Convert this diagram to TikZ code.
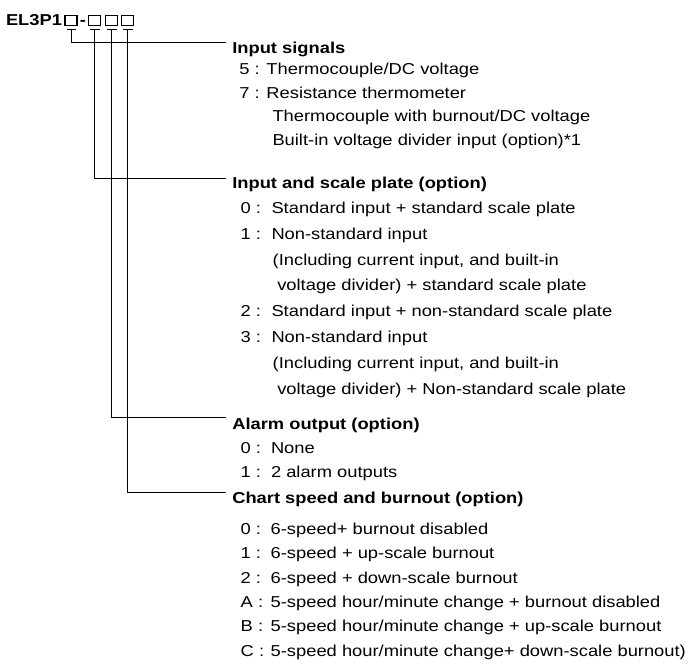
\documentclass[tikz,border=0pt]{standalone}
\usepackage{fontspec}
\setmainfont{Liberation Sans}
\usepackage{graphicx}
\usetikzlibrary{calc}
\newcommand{\sx}[1]{\scalebox{1.16}[1]{#1}}
\tikzset{
  txt/.style={anchor=base west, inner sep=0pt, outer sep=0pt, font=\fontsize{15.8}{19}\selectfont},
  hd/.style={txt, font=\fontsize{15.8}{19}\selectfont\bfseries},
  digitbox/.style={draw, line width=1.3pt, minimum width=11.8pt, minimum height=10.6pt, inner sep=0pt},
  conn/.style={line width=1pt},
}
\begin{document}
\begin{tikzpicture}[x=1pt,y=-1pt]
\useasboundingbox (0,0) rectangle (692,671);
% code
\node[hd] (code) at (6,26) {\sx{EL3P1}};
\node[digitbox] (b1) at (71,20.5) {};
\node[hd] (dash) at (79.8,26) {\sx{-}};
\node[digitbox] (b2) at (94.5,20.5) {};
\node[digitbox] (b3) at (111.5,20.5) {};
\node[digitbox] (b4) at (127.5,20.5) {};
% connector end points
\coordinate (e1) at (225.5,42.3);
\coordinate (e2) at (225.5,178.3);
\coordinate (e3) at (225.5,417.7);
\coordinate (e4) at (225.5,492.3);
\foreach \b/\e in {b1/e1,b2/e2,b3/e3,b4/e4}{
  \draw[conn] ($(\b.south)+(-4.5,2.6)$) -- ++(9.5,0);
  \draw[conn] ($(\b.south)+(0,2.6)$) |- (\e);
}
% section 1
\node[hd] (h1) at (232.3,54) {\sx{Input signals}};
\node[txt] (s1a) at (239.3,74.5) {\sx{5 : Thermocouple/DC voltage}};
\node[txt] (s1b) at (239.3,98.2) {\sx{7 : Resistance thermometer}};
\node[txt] (s1c) at (272.5,121.8) {\sx{Thermocouple with burnout/DC voltage}};
\node[txt] (s1d) at (272.5,145.4) {\sx{Built-in voltage divider input (option)*1}};
% section 2
\node[hd] (h2) at (232.3,188.3) {\sx{Input and scale plate (option)}};
\node[txt] (s2a) at (240.7,213.5) {\sx{0 :}};
\node[txt] (s2at) at (271.5,213.5) {\sx{Standard input + standard scale plate}};
\node[txt] (s2b) at (240.7,239.3) {\sx{1 :}};
\node[txt] (s2bt) at (271.5,239.3) {\sx{Non-standard input}};
\node[txt] (s2c) at (272.7,265.1) {\sx{(Including current input, and built-in}};
\node[txt] (s2d) at (277.3,290.9) {\sx{voltage divider) + standard scale plate}};
\node[txt] (s2e) at (240.7,316.7) {\sx{2 :}};
\node[txt] (s2et) at (271.5,316.7) {\sx{Standard input + non-standard scale plate}};
\node[txt] (s2f) at (240.7,342.5) {\sx{3 :}};
\node[txt] (s2ft) at (271.5,342.5) {\sx{Non-standard input}};
\node[txt] (s2g) at (272.7,368.3) {\sx{(Including current input, and built-in}};
\node[txt] (s2h) at (277.3,394.1) {\sx{voltage divider) + Non-standard scale plate}};
% section 3
\node[hd] (h3) at (232.3,429) {\sx{Alarm output (option)}};
\node[txt] (s3a) at (240.7,453.3) {\sx{0 :}};
\node[txt] (s3at) at (271,453.3) {\sx{None}};
\node[txt] (s3b) at (240.7,477.7) {\sx{1 :}};
\node[txt] (s3bt) at (271,477.7) {\sx{2 alarm outputs}};
% section 4
\node[hd] (h4) at (232.3,503.8) {\sx{Chart speed and burnout (option)}};
\node[txt] (s4a) at (240.7,534) {\sx{0 :}};
\node[txt] (s4at) at (270.7,534) {\sx{6-speed+ burnout disabled}};
\node[txt] (s4b) at (240.7,558.5) {\sx{1 :}};
\node[txt] (s4bt) at (270.7,558.5) {\sx{6-speed + up-scale burnout}};
\node[txt] (s4c) at (240.7,583) {\sx{2 :}};
\node[txt] (s4ct) at (270.7,583) {\sx{6-speed + down-scale burnout}};
\node[txt] (s4d) at (240.7,607.4) {\sx{A :}};
\node[txt] (s4dt) at (270.7,607.4) {\sx{5-speed hour/minute change + burnout disabled}};
\node[txt] (s4e) at (240.7,631.8) {\sx{B :}};
\node[txt] (s4et) at (270.7,631.8) {\sx{5-speed hour/minute change + up-scale burnout}};
\node[txt] (s4f) at (240.7,656.2) {\sx{C :}};
\node[txt] (s4ft) at (270.7,656.2) {\sx{5-speed hour/minute change+ down-scale burnout)}};
\end{tikzpicture}
\end{document}
